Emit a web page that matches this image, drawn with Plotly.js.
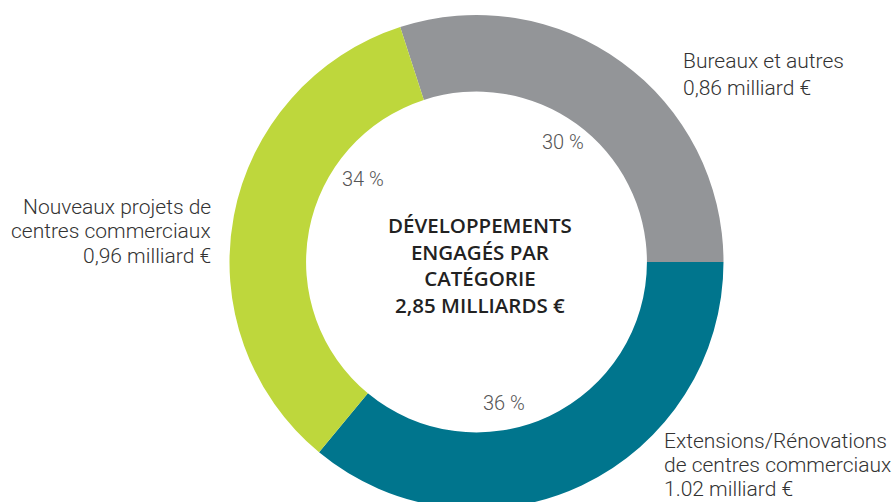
<!DOCTYPE html>
<html>
<head>
<meta charset="utf-8">
<script src="https://cdn.plot.ly/plotly-3.0.1.min.js"></script>
<style>
html,body{margin:0;padding:0;overflow:hidden;background:#fff;width:896px;height:502px;}
#chart{width:896px;height:524px;}
</style>
</head>
<body>
<div id="chart"></div>
<script>
// ---- data ----
var categories = ["Bureaux et autres", "Extensions/Rénovations de centres commerciaux", "Nouveaux projets de centres commerciaux"];
var shares = [30, 36, 34];
var amounts = ["0,86 milliard €", "1.02 milliard €", "0,96 milliard €"];
var shareLabels = ["30 %", "36 %", "34 %"];
var nameLines = [
  ["Bureaux et autres"],
  ["Extensions/Rénovations", "de centres commerciaux"],
  ["Nouveaux projets de", "centres commerciaux"]
];
var centerLines = ["DÉVELOPPEMENTS", "ENGAGÉS PAR", "CATÉGORIE", "2,85 MILLIARDS €"];

// ---- style ----
var colors = ["#939598", "#00758d", "#bed73c"];
var W = 896, H = 524;
var cx = 476.5, cy = 262, R = 247;
function px(x){ return x / W; }
function py(y){ return 1 - y / H; }

var labelFont = {family: "Roboto, 'Open Sans', sans-serif", color: "#333333", weight: 300, size: 21};

var annotations = [];
function addText(t, x, y, xa, font) {
  annotations.push({
    text: t, xref: "paper", yref: "paper",
    x: px(x), y: py(y), xanchor: xa, yanchor: "middle", align: xa,
    showarrow: false, font: font
  });
}
// outer labels: anchor x, first line center y, line step
var outerPos = [
  {x: 681, y: 61, step: 27, xa: "left"},
  {x: 662, y: 441, step: 24, xa: "left"},
  {x: 213, y: 206.5, step: 24.5, xa: "right"}
];
for (var i = 0; i < categories.length; i++) {
  var lines = nameLines[i].concat([amounts[i]]);
  for (var k = 0; k < lines.length; k++) {
    addText(lines[k], outerPos[i].x, outerPos[i].y + k * outerPos[i].step, outerPos[i].xa, labelFont);
  }
}
// percentage labels (inside the hole)
var pctPos = [{x: 563, y: 141.5}, {x: 504, y: 402.5}, {x: 363, y: 179}];
for (var j = 0; j < shareLabels.length; j++) {
  addText(shareLabels[j], pctPos[j].x, pctPos[j].y, "center",
    {family: "Roboto, sans-serif", size: 20, color: "#555555", weight: 300});
}
// center title (one block, line spacing from font size)
addText(centerLines.join("<br>"), 480, 265, "center",
  {family: "'Open Sans', Roboto, sans-serif", size: 20.5, color: "#222222", weight: 600});

var trace = {
  type: "pie",
  labels: categories,
  values: shares,
  hole: 0.69,
  sort: false,
  direction: "clockwise",
  rotation: -18,
  marker: {colors: colors, line: {width: 0}},
  textinfo: "none",
  hoverinfo: "skip",
  showlegend: false,
  domain: {x: [px(cx - R), px(cx + R)], y: [1 - (cy + R) / H, 1 - (cy - R) / H]}
};

var layout = {
  width: W, height: H,
  margin: {l: 0, r: 0, t: 0, b: 0},
  paper_bgcolor: "#ffffff",
  showlegend: false,
  annotations: annotations
};

Plotly.newPlot("chart", [trace], layout, {displayModeBar: false, staticPlot: true});
</script>
</body>
</html>
